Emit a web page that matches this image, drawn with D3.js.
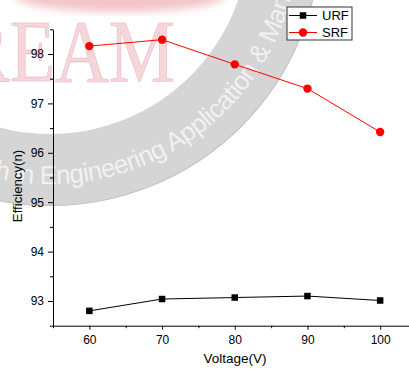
<!DOCTYPE html>
<html>
<head>
<meta charset="utf-8">
<script src="https://cdn.jsdelivr.net/npm/d3@7"></script>
<style>
  html, body { margin: 0; padding: 0; background: #fff; }
  svg { display: block; }
</style>
</head>
<body>
<svg id="chart" width="409" height="369"></svg>
<script>
// Efficiency versus supply voltage for the two rectifier front ends
const voltages = [60, 70, 80, 90, 100];
const urfEfficiency = [92.80, 93.04, 93.07, 93.10, 93.01];
const srfEfficiency = [98.16, 98.29, 97.79, 97.30, 96.42];
const xTicks = [60, 70, 80, 90, 100];
const xMinorTicks = [55, 65, 75, 85, 95];
const yTicks = [93, 94, 95, 96, 97, 98];
const yMinorTicks = [92.5, 93.5, 94.5, 95.5, 96.5, 97.5, 98.5];
const seriesNames = ["URF", "SRF"];

const svg = d3.select("#chart");
const font = "'Liberation Sans', Arial, sans-serif";

const x = d3.scaleLinear().domain([55, 105]).range([53, 416.5]);
const y = d3.scaleLinear().domain([92.5, 98.5]).range([325.7, 29.3]);

// ---- journal watermark behind the plot ----
const defs = svg.append("defs");
defs.append("filter").attr("id", "soft")
  .append("feGaussianBlur").attr("stdDeviation", 4);

const wm = svg.append("g");
wm.append("ellipse")
  .attr("cx", 120).attr("cy", -4).attr("rx", 105).attr("ry", 16)
  .attr("fill", "#f3c4c8").attr("filter", "url(#soft)");

const cx = 50, cy = -65;
wm.append("path")
  .attr("transform", `translate(${cx},${cy})`)
  .attr("d", d3.arc().innerRadius(199).outerRadius(271).startAngle(0).endAngle(2 * Math.PI)())
  .attr("fill", "#d5d5d5");
wm.append("circle")
  .attr("cx", cx).attr("cy", cy).attr("r", 270.5)
  .attr("fill", "none").attr("stroke", "#c6c6c6").attr("stroke-width", 1.2);

const deg = Math.PI / 180;
const baseR = 249;
const ring = d3.path();
ring.arc(cx, cy, baseR, 200 * deg, -60 * deg, true);
defs.append("path").attr("id", "ringText").attr("d", ring.toString());

const ringLabel = "International Journal for Research in Engineering Application & Management";
const prefix = "International Journal for Research in ";
const ringFont = 26, ringSpacing = -0.6;
const probe = svg.append("text")
  .attr("font-family", font).attr("font-size", ringFont)
  .attr("letter-spacing", ringSpacing).text(prefix);
const prefixLen = probe.node().getComputedTextLength();
probe.remove();

wm.append("text")
  .attr("font-family", font).attr("font-size", ringFont)
  .attr("letter-spacing", ringSpacing)
  .attr("fill", "#f1f1f1")
  .append("textPath")
  .attr("href", "#ringText")
  .attr("startOffset", (200 - 94) * deg * baseR - prefixLen)
  .text(ringLabel);

wm.append("text")
  .attr("x", -40).attr("y", 81)
  .attr("font-family", "'Liberation Serif', 'Times New Roman', serif")
  .attr("font-size", 88)
  .attr("textLength", 215).attr("lengthAdjust", "spacingAndGlyphs")
  .attr("fill", "#f6d6db").attr("stroke", "#e6b9c0").attr("stroke-width", 0.6)
  .text("REAM");

// ---- axes ----
const fmt = d3.format("d");
svg.append("g").attr("transform", `translate(0,${y.range()[0]})`)
  .call(d3.axisBottom(x).tickValues(xTicks).tickFormat(fmt).tickSize(4).tickSizeOuter(0).tickPadding(6));
svg.append("g").attr("transform", `translate(0,${y.range()[0]})`)
  .call(d3.axisBottom(x).tickValues(xMinorTicks).tickSize(2.5).tickFormat(""))
  .call(g => g.select(".domain").remove());

svg.append("g").attr("transform", `translate(${x.range()[0]},0)`)
  .call(d3.axisLeft(y).tickValues(yTicks).tickFormat(fmt).tickSize(5).tickSizeOuter(0).tickPadding(4));
svg.append("g").attr("transform", `translate(${x.range()[0]},0)`)
  .call(d3.axisLeft(y).tickValues(yMinorTicks).tickSize(3).tickFormat(""))
  .call(g => g.select(".domain").remove());

svg.selectAll(".tick text")
  .attr("font-family", font).attr("font-size", 12).attr("fill", "#000");
svg.selectAll(".domain, .tick line").attr("stroke", "#000").attr("stroke-width", 1);

svg.append("text")
  .attr("x", 235).attr("y", 363)
  .attr("text-anchor", "middle")
  .attr("font-family", font).attr("font-size", 13.5)
  .text("Voltage(V)");
svg.append("text")
  .attr("transform", "translate(22,186) rotate(-90)")
  .attr("text-anchor", "middle")
  .attr("font-family", font).attr("font-size", 13.2)
  .text("Efficiency(n)");

// ---- series ----
const line = d3.line().x(d => x(d[0])).y(d => y(d[1]));
const urf = voltages.map((v, i) => [v, urfEfficiency[i]]);
const srf = voltages.map((v, i) => [v, srfEfficiency[i]]);

svg.append("path").datum(urf).attr("d", line)
  .attr("fill", "none").attr("stroke", "#000").attr("stroke-width", 1);
svg.append("path").datum(srf).attr("d", line)
  .attr("fill", "none").attr("stroke", "#ff0000").attr("stroke-width", 1);

const sq = 6.5;
svg.selectAll(".urf").data(urf).enter().append("rect")
  .attr("x", d => x(d[0]) - sq / 2).attr("y", d => y(d[1]) - sq / 2)
  .attr("width", sq).attr("height", sq).attr("fill", "#000");
svg.selectAll(".srf").data(srf).enter().append("circle")
  .attr("cx", d => x(d[0])).attr("cy", d => y(d[1])).attr("r", 4.2)
  .attr("fill", "#ff0000");

// ---- legend ----
const lg = svg.append("g").attr("transform", "translate(287,7)");
lg.append("rect").attr("x", 0).attr("y", 0).attr("width", 65).attr("height", 33)
  .attr("fill", "#fff").attr("stroke", "#333").attr("stroke-width", 1);
const colors = ["#000", "#ff0000"];
seriesNames.forEach((name, i) => {
  const ly = 8.5 + i * 17;
  lg.append("line").attr("x1", 2).attr("x2", 30).attr("y1", ly).attr("y2", ly)
    .attr("stroke", colors[i]).attr("stroke-width", 1);
  if (i === 0) {
    lg.append("rect").attr("x", 16 - sq / 2).attr("y", ly - sq / 2)
      .attr("width", sq).attr("height", sq).attr("fill", colors[i]);
  } else {
    lg.append("circle").attr("cx", 16).attr("cy", ly).attr("r", 4.2).attr("fill", colors[i]);
  }
  lg.append("text").attr("x", 35).attr("y", ly + 4.6)
    .attr("font-family", font).attr("font-size", 13)
    .text(name);
});
</script>
</body>
</html>
